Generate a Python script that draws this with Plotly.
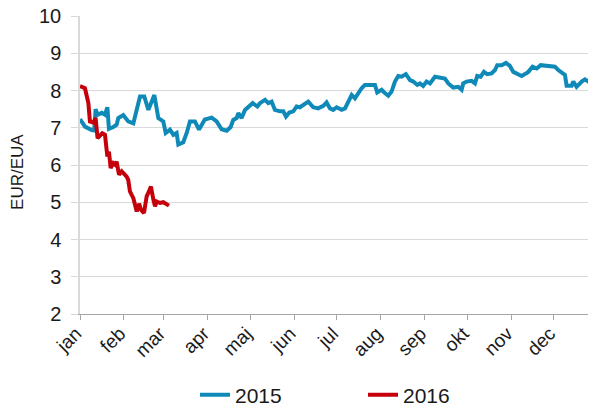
import plotly.graph_objects as go

# Day of year (0 = 1 Jan) and price in EUR/EUA
days_2015 = [0, 3.5, 8.2, 10, 11, 12.4, 15.3, 17.6, 19.3, 20.4, 23.5, 25.8, 27, 30.5, 34, 37.6,
             42.3, 45.3, 48.2, 52.4, 55.2, 58.7, 60.4, 63.4, 65.8, 68.1, 69.3, 72.8, 75.2, 77.5,
             81, 83.9, 88, 92.8, 96.3, 99.8, 103.4, 106.2, 108, 110.4, 111.6, 113.9, 116.3,
             118.6, 121.7, 125, 126.8, 130.4, 132.7, 135.1, 137.4, 140.9, 143.3, 145.2, 147.5,
             150.3, 152.7, 155, 158.6, 160.9, 164.4, 167.9, 171.5, 173.8, 176.2, 178.5, 180.9,
             184.4, 186.8, 189.1, 191.5, 193.8, 196.1, 198.5, 200.8, 203.2, 205.6, 207.9, 209.5,
             212.6, 214.9, 217.3, 219.6, 222, 224.3, 226.7, 229.7, 232.6, 234.9, 237.7, 239.6,
             241.9, 244.3, 246.7, 250.2, 253.7, 257.2, 259.6, 263.1, 266.6, 269, 270.1, 272.5,
             276, 278.4, 280, 282.4, 284.7, 287, 290.1, 292.5, 294.1, 297.2, 300.2, 303, 305.4,
             308.2, 311.3, 313.6, 316, 319, 321.9, 324.7, 327.7, 331.2, 334.7, 337.1, 339.5,
             341.8, 343, 346.5, 347.7, 350, 353.6, 355.9, 358.3, 361.4, 363.7]
price_2015 = [7.23, 7.03, 6.94, 6.93, 7.5, 7.35, 7.4, 7.35, 7.55, 6.97, 7.02, 7.08, 7.26, 7.34, 7.17, 7.12,
              7.84, 7.84, 7.48, 7.88, 7.26, 7.17, 6.86, 6.95, 6.81, 6.86, 6.55, 6.61, 6.86, 7.17,
              7.17, 6.95, 7.22, 7.27, 7.17, 6.96, 6.92, 7.02, 7.21, 7.26, 7.39, 7.26, 7.48,
              7.57, 7.66, 7.57, 7.66, 7.75, 7.66, 7.7, 7.48, 7.44, 7.44, 7.3, 7.41,
              7.44, 7.57, 7.55, 7.66, 7.7, 7.55, 7.52, 7.59, 7.68, 7.52, 7.48, 7.55,
              7.48, 7.52, 7.7, 7.88, 7.79, 7.93, 8.06, 8.15, 8.15, 8.17, 8.15, 7.95,
              8.02, 7.93, 7.86, 7.97, 8.24, 8.39, 8.37, 8.44, 8.28, 8.24, 8.15, 8.19,
              8.12, 8.24, 8.19, 8.37, 8.35, 8.32, 8.19, 8.08, 8.1, 8.02, 8.19, 8.24,
              8.26, 8.19, 8.39, 8.37, 8.5, 8.44, 8.46, 8.55, 8.68, 8.68, 8.74, 8.66, 8.5,
              8.44, 8.39, 8.44, 8.5, 8.64, 8.59, 8.68, 8.66, 8.66, 8.64, 8.55, 8.48,
              8.42, 8.13, 8.13, 8.24, 8.1, 8.24, 8.3, 8.24, 8.32, 8.24]

days_2016 = [0, 3.5, 5.9, 7, 9.4, 11, 12.4, 14.1, 15.7, 17.6, 19.3, 20.4, 21.6, 23.5, 24.7, 25.8,
             27.5, 29.4, 31.7, 32.9, 34, 35.2, 37.6, 40, 41.6, 43, 45.1, 47, 48.6, 50, 51.7,
             52.9, 54, 56.4, 58.7, 61.1, 62.7]
price_2016 = [8.12, 8.06, 7.66, 7.17, 7.14, 7.26, 6.72, 6.81, 6.85, 6.81, 6.23, 6.36, 5.92, 6.05, 6.01, 6.09,
              5.74, 5.83, 5.74, 5.69, 5.6, 5.29, 5.11, 4.75, 4.96, 4.8, 4.71, 5.16, 5.29, 5.42, 5.07,
              4.89, 5.02, 4.98, 5.0, 4.96, 4.91]

month_starts = [0, 31, 59, 90, 120, 151, 181, 212, 243, 273, 304, 334]
month_labels = ["jan", "feb", "mar", "apr", "maj", "jun", "jul", "aug", "sep", "okt", "nov", "dec"]
y_ticks = [2, 3, 4, 5, 6, 7, 8, 9, 10]

FONT = "Liberation Sans, Arial, sans-serif"
TXT = "#1a1a1a"

# The page body has an 8px margin, so the figure is sized to end at the window edge.
W, H = 588, 399

fig = go.Figure()
fig.add_trace(go.Scatter(x=days_2015, y=price_2015, mode="lines", name="2015",
                         line=dict(color="#0f8ab8", width=4)))
fig.add_trace(go.Scatter(x=days_2016, y=price_2016, mode="lines", name="2016",
                         line=dict(color="#c5000b", width=4)))

fig.update_layout(
    width=W, height=H,
    margin=dict(l=72, r=0, t=8, b=93, autoexpand=False),
    paper_bgcolor="white", plot_bgcolor="white",
    font=dict(family=FONT, color=TXT),
    showlegend=True,
    legend=dict(orientation="h", xref="container", x=187 / W, xanchor="left",
                yref="container", y=12 / H, yanchor="middle",
                font=dict(size=21, family=FONT, color=TXT),
                entrywidth=123, entrywidthmode="pixels", bgcolor="rgba(0,0,0,0)"),
    xaxis=dict(range=[0, 363.7], tickmode="array", tickvals=month_starts, ticktext=month_labels,
               tickangle=-45, tickfont=dict(size=19, family=FONT, color=TXT), automargin=False,
               showgrid=False, zeroline=False, showline=True, linecolor="#a6a6a6", linewidth=1,
               ticks="outside", ticklen=5, tickcolor="#a6a6a6", tickwidth=1,
               ticklabelstandoff=-5, ticklabelshift=-4, ticklabeloverflow="allow"),
    yaxis=dict(range=[2, 10], tickmode="array", tickvals=y_ticks, automargin=False,
               tickfont=dict(size=20, family=FONT, color=TXT),
               showgrid=True, gridcolor="#d9d9d9", gridwidth=1, zeroline=False,
               showline=True, linecolor="#d9d9d9", linewidth=1.5,
               ticks="outside", ticklen=7, tickcolor="#d9d9d9", tickwidth=1,
               ticklabelstandoff=6, ticklabeloverflow="allow"),
)
fig.add_annotation(text="EUR/EUA", xref="paper", yref="paper", x=-0.12, y=0.477,
                   textangle=-90, showarrow=False, font=dict(size=17, family=FONT, color=TXT),
                   xanchor="center", yanchor="middle")

fig.write_html("out.html")
